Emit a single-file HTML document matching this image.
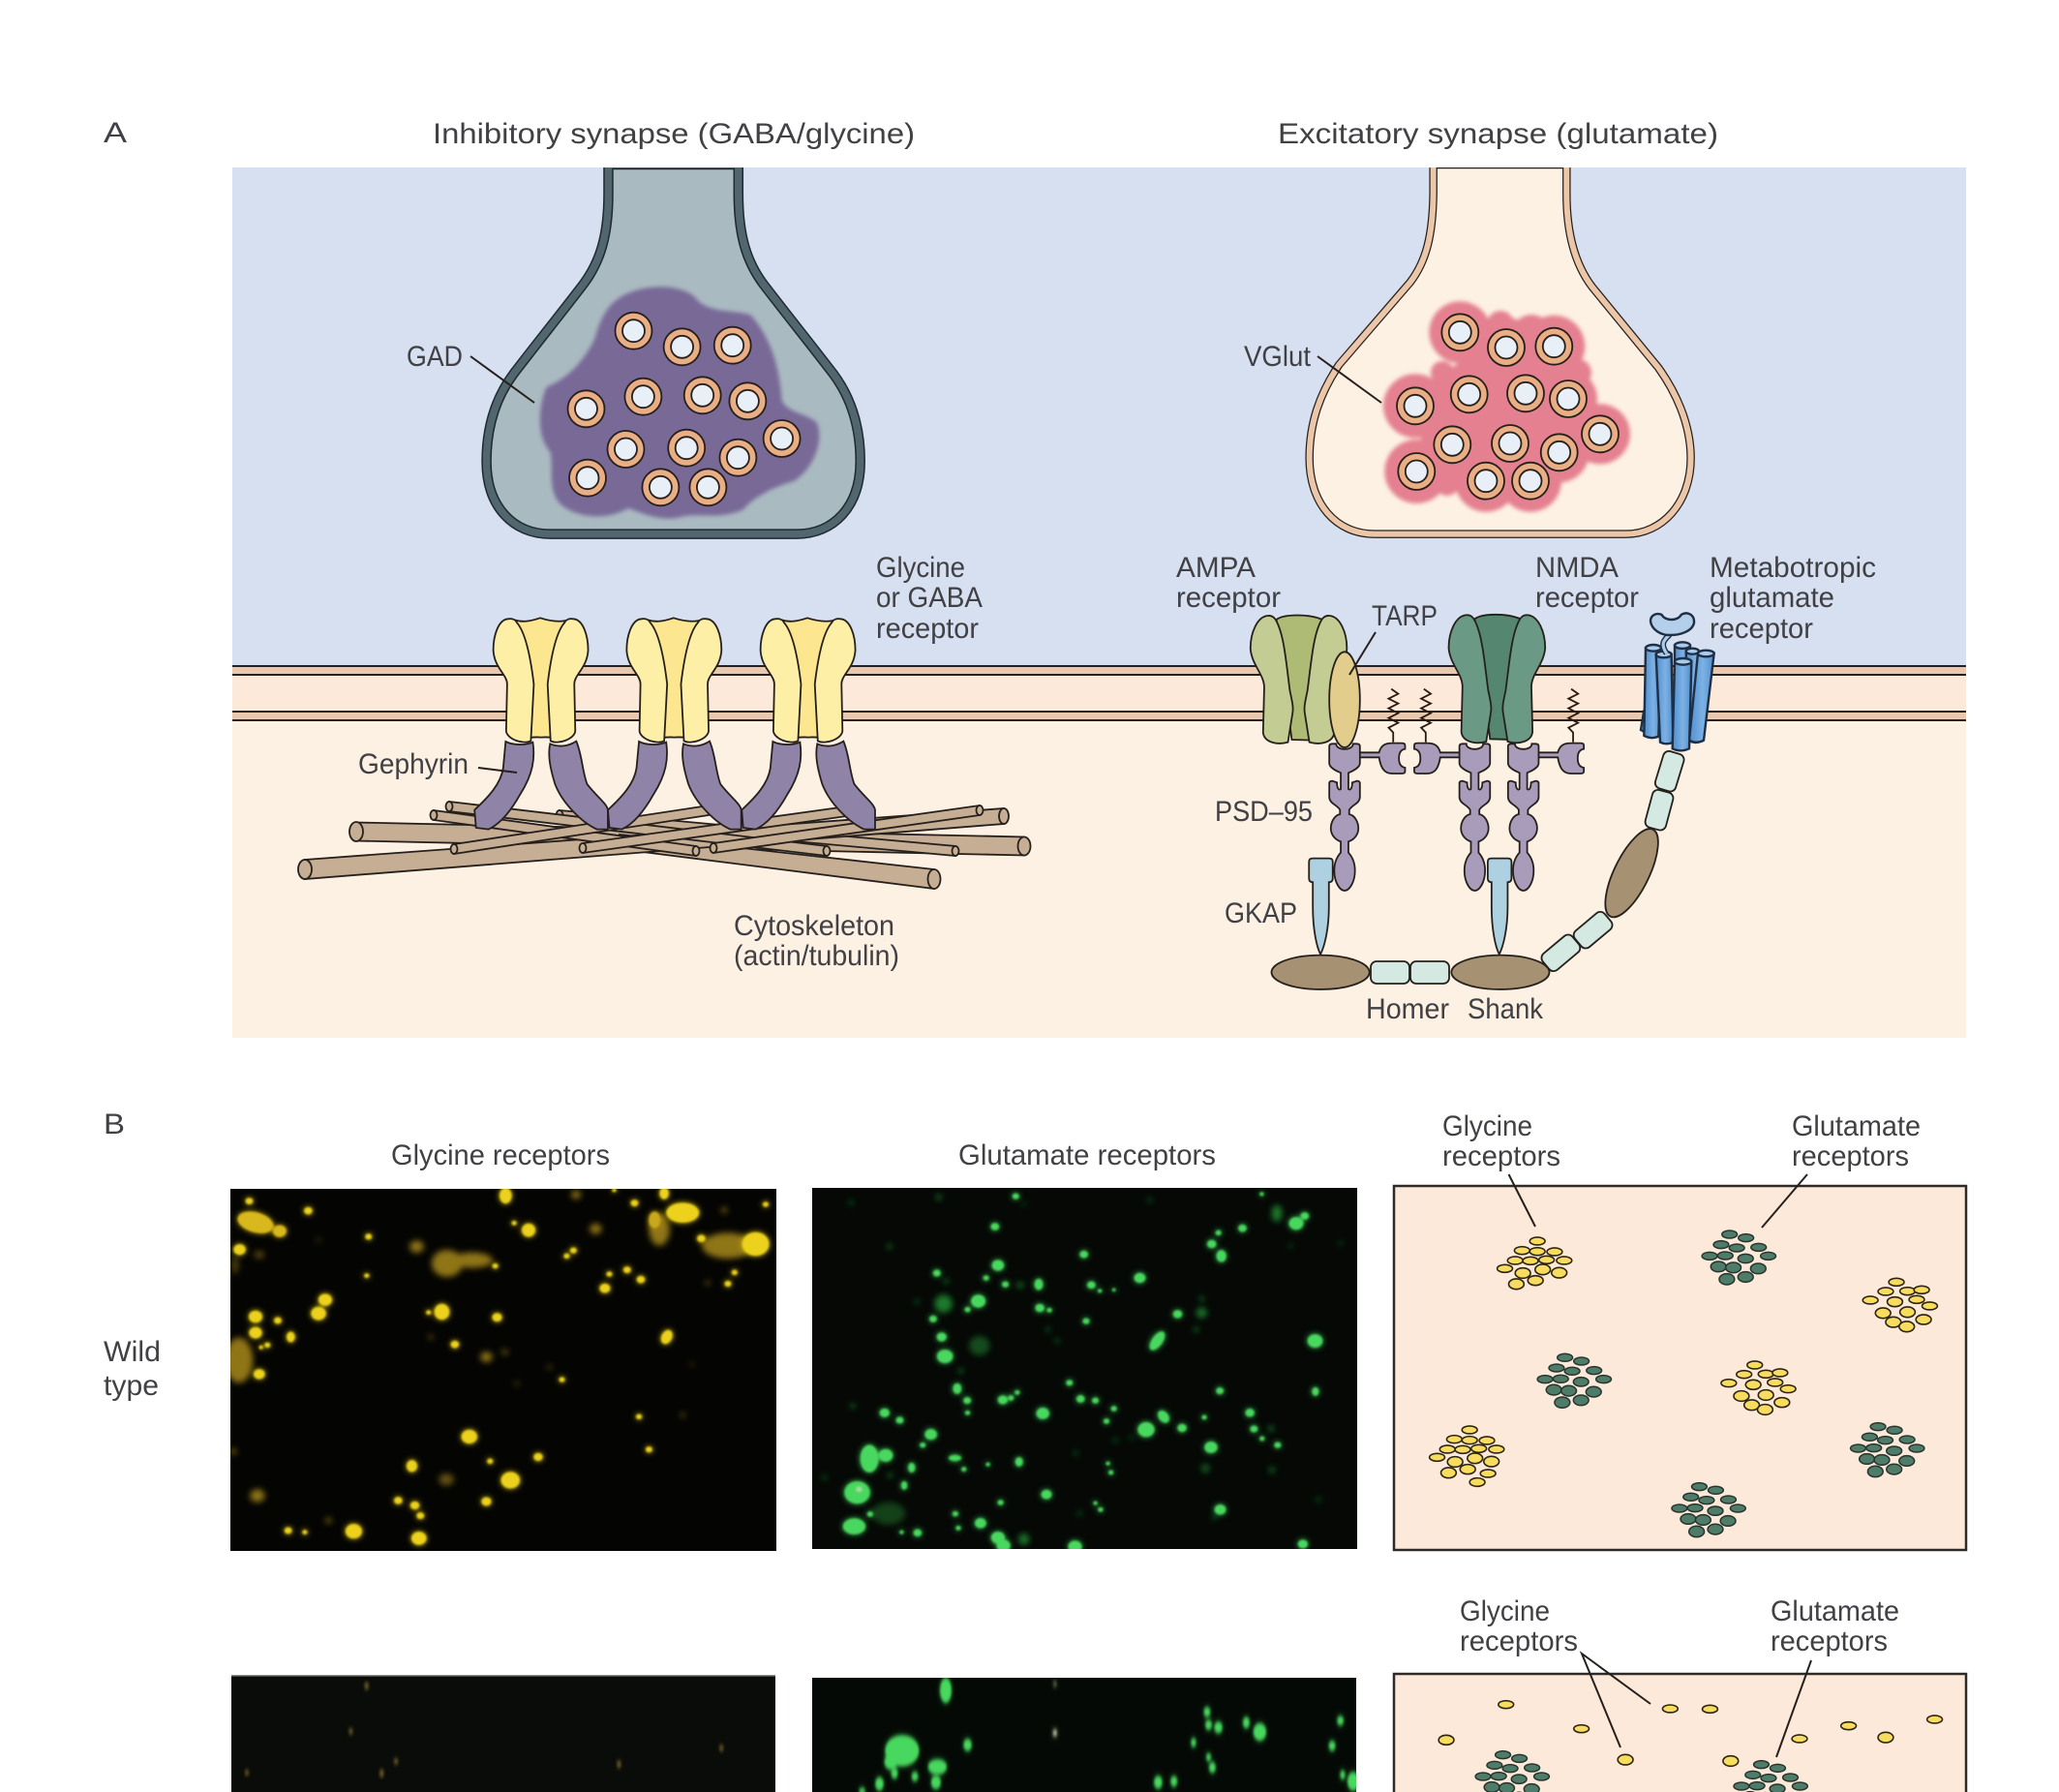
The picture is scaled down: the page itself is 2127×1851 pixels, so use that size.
<!DOCTYPE html>
<html><head><meta charset="utf-8"><style>
html,body{margin:0;padding:0;background:#fff}
svg{display:block}
svg *{vector-effect:non-scaling-stroke}
text{font-family:"Liberation Sans",sans-serif;font-size:30px;fill:#404045}
.k{stroke:#26201c;stroke-width:1.8}
.c{stroke:#1f2f45;stroke-width:2.4}
.l{stroke:#26201c;stroke-width:2;fill:none}
.y{fill:#ecd21c}.yd{fill:#8f7418}
.g{fill:#4ad85e}.gd{fill:#1e7a2c}
.e{stroke:#2b2414;stroke-width:1.6;fill:#f8dc5e}
.f{stroke:#26342e;stroke-width:1.5;fill:#4f7b69}
</style></head><body>
<svg xmlns="http://www.w3.org/2000/svg" width="2127" height="1851" viewBox="0 0 2127 1851">
<defs>
<filter id="b2" x="-5%" y="-5%" width="110%" height="110%"><feGaussianBlur stdDeviation="2.2"/></filter>
<filter id="b3" x="-5%" y="-5%" width="110%" height="110%"><feGaussianBlur stdDeviation="3.2"/></filter>
<filter id="gl" x="-3%" y="-3%" width="106%" height="106%"><feGaussianBlur in="SourceGraphic" stdDeviation="3.2" result="a"/><feGaussianBlur in="SourceGraphic" stdDeviation="1.1" result="b"/><feMerge><feMergeNode in="a"/><feMergeNode in="b"/></feMerge></filter>
<filter id="gv" x="-3%" y="-5%" width="106%" height="110%"><feGaussianBlur in="SourceGraphic" stdDeviation="2.4 4" result="a"/><feGaussianBlur in="SourceGraphic" stdDeviation="1 2" result="b"/><feMerge><feMergeNode in="a"/><feMergeNode in="b"/></feMerge></filter>
<filter id="bv" x="-2%" y="-2%" width="104%" height="104%"><feGaussianBlur stdDeviation="1.2 2.4"/></filter>
<clipPath id="cA"><rect x="240" y="173" width="1791" height="899"/></clipPath>
<clipPath id="c1"><rect x="238" y="1228" width="564" height="374"/></clipPath>
<clipPath id="c2"><rect x="839" y="1227" width="563" height="373"/></clipPath>
<clipPath id="c3"><rect x="239" y="1731" width="562" height="120"/></clipPath>
<clipPath id="c4"><rect x="839" y="1733" width="562" height="118"/></clipPath>
<linearGradient id="cy" x1="0" x2="1" y1="0" y2="0"><stop offset="0" stop-color="#4f8fd0"/><stop offset=".55" stop-color="#7db1e4"/><stop offset="1" stop-color="#4f8fd0"/></linearGradient>
<g id="v"><circle r="19" fill="#e9ae84" class="k"/><circle r="11.5" fill="#e9eff7" class="k"/></g>
<path id="gs" class="k" d="M480,238C460,240 450,290 450,335C452,390 478,410 478,440L476,585C478,612 512,628 526,616L530,500L532,440C525,350 515,280 498,250C495,240 488,236 480,238Z"/>
<g id="gr">
<path class="k" fill="#fde690" d="M490,240C510,250 525,245 545,235C565,245 585,250 605,240L600,604C585,610 565,602 546,605C530,602 515,610 500,608Z"/>
<use href="#gs" fill="#fdf0a6"/>
<use href="#gs" fill="#fdf0a6" transform="translate(1092,0) scale(-1,1)"/>
</g>
<g id="ge">
<path class="k" fill="#8f83a8" d="M475,618C490,630 515,630 530,620C535,670 530,720 505,780C485,835 462,875 440,890L415,885L412,830C440,790 465,750 470,700Z"/>
<path class="k" fill="#8f83a8" d="M565,625C580,635 600,635 618,617C630,660 630,710 640,750C660,790 680,810 682,830L682,890L660,890C630,870 590,810 575,750C565,700 560,660 565,625Z"/>
</g>
<path id="as" class="k" d="M278,198C250,200 232,250 232,300C235,350 268,380 268,420L265,560C268,590 300,600 330,590L342,500C345,480 340,460 335,430C325,340 320,260 300,215C295,203 287,197 278,198Z"/>
<g id="psd">
<path class="k" fill="#a99cbb" d="M38,27L90,27C95,5 105,-2 125,-2L150,-2Q158,-2 158,5L158,16C146,18 142,30 142,45C142,60 146,72 158,74L158,85Q158,92 150,92L125,92C105,92 95,78 90,42L38,42Z"/>
<path class="k" fill="#a99cbb" d="M-40,8Q-40,0 -32,0L-22,0C-22,22 22,22 22,0L32,0Q40,0 40,8L40,60C40,75 20,85 10,90L10,140C14,145 20,140 20,120L32,115Q40,115 40,123L40,165C40,185 18,190 12,205L12,218C28,222 36,245 36,262C36,282 24,298 10,303L10,337C20,350 27,370 27,393C27,430 12,455 0,455C-12,455 -27,430 -27,393C-27,370 -20,350 -10,337L-10,303C-24,298 -36,282 -36,262C-36,245 -28,222 -12,218L-12,205C-18,190 -40,185 -40,165L-40,123Q-40,115 -32,115L-20,120C-20,140 -14,145 -10,140L-10,90C-20,85 -40,75 -40,60Z"/>
</g>
<path id="gk" class="k" fill="#add1e0" d="M385,960Q385,950 395,950L437,950Q447,950 447,960L447,1012Q447,1024 437,1024L437,1100C437,1170 425,1225 415,1247C405,1225 395,1170 395,1100L395,1024Q385,1024 385,1012Z"/>
<path id="zz" fill="none" stroke="#2a1a10" stroke-width="1.8" d="M605,590L605,560L593,545L618,530L593,515L618,500L593,485L618,470L593,455L618,440L600,425"/>
<g id="cg">
<ellipse class="f" cx="902" cy="405" rx="20" ry="12"/><ellipse class="f" cx="945" cy="416" rx="20" ry="12"/><ellipse class="f" cx="880" cy="437" rx="20" ry="12"/><ellipse class="f" cx="921" cy="447" rx="20" ry="12"/><ellipse class="f" cx="978" cy="445" rx="20" ry="12"/><ellipse class="f" cx="850" cy="472" rx="20" ry="12"/><ellipse class="f" cx="891" cy="471" rx="20" ry="12"/><ellipse class="f" cx="944" cy="480" rx="20" ry="14"/><ellipse class="f" cx="1003" cy="472" rx="20" ry="12"/><ellipse class="f" cx="873" cy="505" rx="20" ry="16"/><ellipse class="f" cx="912" cy="508" rx="20" ry="16"/><ellipse class="f" cx="977" cy="511" rx="20" ry="16"/><ellipse class="f" cx="895" cy="544" rx="20" ry="17"/><ellipse class="f" cx="944" cy="537" rx="20" ry="16"/>
</g>
<g id="cy1">
<ellipse class="e" cx="400" cy="426" rx="20" ry="12"/><ellipse class="e" cx="360" cy="455" rx="20" ry="12"/><ellipse class="e" cx="400" cy="458" rx="20" ry="12"/><ellipse class="e" cx="445" cy="459" rx="20" ry="12"/><ellipse class="e" cx="342" cy="486" rx="20" ry="12"/><ellipse class="e" cx="382" cy="487" rx="20" ry="12"/><ellipse class="e" cx="424" cy="484" rx="20" ry="12"/><ellipse class="e" cx="470" cy="486" rx="20" ry="12"/><ellipse class="e" cx="315" cy="511" rx="20" ry="12"/><ellipse class="e" cx="362" cy="525" rx="20" ry="16"/><ellipse class="e" cx="414" cy="514" rx="20" ry="16"/><ellipse class="e" cx="457" cy="524" rx="20" ry="16"/><ellipse class="e" cx="345" cy="559" rx="20" ry="16"/><ellipse class="e" cx="395" cy="548" rx="20" ry="15"/>
</g>
<g id="cy2">
<ellipse class="e" cx="1338" cy="553" rx="20" ry="12"/><ellipse class="e" cx="1310" cy="582" rx="20" ry="12"/><ellipse class="e" cx="1367" cy="581" rx="20" ry="12"/><ellipse class="e" cx="1404" cy="577" rx="20" ry="12"/><ellipse class="e" cx="1270" cy="609" rx="20" ry="12"/><ellipse class="e" cx="1334" cy="614" rx="20" ry="15"/><ellipse class="e" cx="1391" cy="607" rx="20" ry="12"/><ellipse class="e" cx="1425" cy="627" rx="20" ry="12"/><ellipse class="e" cx="1303" cy="649" rx="20" ry="16"/><ellipse class="e" cx="1367" cy="646" rx="20" ry="16"/><ellipse class="e" cx="1409" cy="669" rx="20" ry="15"/><ellipse class="e" cx="1330" cy="677" rx="20" ry="16"/><ellipse class="e" cx="1365" cy="691" rx="20" ry="16"/>
</g>
</defs>

<rect width="2127" height="1851" fill="#fff"/>

<!-- Panel A -->
<g clip-path="url(#cA)">
<rect x="240" y="173" width="1791" height="515" fill="#d6e0f1"/>
<rect x="240" y="688" width="1791" height="9" fill="#e8c9b0"/>
<rect x="240" y="697" width="1791" height="38" fill="#fde9d9"/>
<rect x="240" y="735" width="1791" height="9" fill="#e8c9b0"/>
<rect x="240" y="744" width="1791" height="328" fill="#fdf1e3"/>
<g stroke="#2a1f1a" stroke-width="2"><line x1="240" x2="2031" y1="688" y2="688"/><line x1="240" x2="2031" y1="697" y2="697"/><line x1="240" x2="2031" y1="735" y2="735"/><line x1="240" x2="2031" y1="744" y2="744"/></g>

<!-- left terminal -->
<g transform="translate(400,150) scale(.3827,.3333)">
<path fill="#aabac1" stroke="#1e2a2e" stroke-width="10.5" stroke-linejoin="round" d="M597,60L597,150C597,280 575,360 530,430C470,520 400,620 340,710C295,780 268,870 268,980C268,1120 340,1205 440,1205L1105,1205C1205,1205 1277,1120 1277,980C1277,870 1250,780 1205,710C1145,620 1075,520 1015,430C970,360 948,280 948,150L948,60Z"/>
<path fill="none" stroke="#51666f" stroke-width="7.5" stroke-linejoin="round" d="M597,60L597,150C597,280 575,360 530,430C470,520 400,620 340,710C295,780 268,870 268,980C268,1120 340,1205 440,1205L1105,1205C1205,1205 1277,1120 1277,980C1277,870 1250,780 1205,710C1145,620 1075,520 1015,430C970,360 948,280 948,150L948,60Z"/>
</g>
<g filter="url(#b2)"><g transform="translate(400,150) scale(.3827,.3333)">
<path fill="#786997" d="M600,500C650,430 780,420 830,470C860,520 930,510 980,525C1040,600 1060,700 1065,790C1080,830 1130,830 1160,860C1180,920 1150,1000 1100,1040C1040,1060 990,1090 960,1130C900,1160 850,1140 800,1150C740,1170 690,1140 650,1125C600,1160 520,1160 470,1115C430,1070 450,1000 440,950C400,900 410,800 430,750C490,720 530,670 560,600C570,560 580,530 600,500Z"/>
</g></g>
<use href="#v" x="654.5" y="341.7"/><use href="#v" x="704.6" y="358.3"/><use href="#v" x="756.7" y="356.7"/><use href="#v" x="605.5" y="422.3"/><use href="#v" x="664.4" y="409.7"/><use href="#v" x="725.7" y="408.3"/><use href="#v" x="772.4" y="414.3"/><use href="#v" x="807.6" y="453"/><use href="#v" x="646.5" y="464"/><use href="#v" x="709.2" y="462.7"/><use href="#v" x="762.4" y="472.7"/><use href="#v" x="607" y="493.7"/><use href="#v" x="682.4" y="503.3"/><use href="#v" x="731.4" y="503.3"/>

<!-- right terminal -->
<g transform="translate(1340,150) scale(.3333)">
<path fill="#fdf1e3" stroke="#26201c" stroke-width="8.5" stroke-linejoin="round" d="M422,60L422,150C420,280 400,360 350,425L130,680C70,770 38,860 38,970C38,1110 120,1205 240,1205L1020,1205C1130,1205 1220,1110 1220,970C1220,860 1170,760 1120,690L915,440C865,375 835,280 835,150L835,60Z"/>
<path fill="none" stroke="#ecc6a8" stroke-width="6" stroke-linejoin="round" d="M422,60L422,150C420,280 400,360 350,425L130,680C70,770 38,860 38,970C38,1110 120,1205 240,1205L1020,1205C1130,1205 1220,1110 1220,970C1220,860 1170,760 1120,690L915,440C865,375 835,280 835,150L835,60Z"/>
</g>
<g filter="url(#b2)" fill="#e4808f">
<circle cx="1508.3" cy="343.3" r="32"/><circle cx="1556" cy="359" r="31"/><circle cx="1605.3" cy="357.7" r="32"/><circle cx="1462" cy="419.3" r="33"/><circle cx="1517.7" cy="407.3" r="33"/><circle cx="1576" cy="406.3" r="33"/><circle cx="1620" cy="412" r="30"/><circle cx="1653" cy="448.3" r="31"/><circle cx="1500.3" cy="459.3" r="33"/><circle cx="1560" cy="458" r="33"/><circle cx="1610.7" cy="467.3" r="31"/><circle cx="1463.3" cy="487" r="33"/><circle cx="1535" cy="496.7" r="32"/><circle cx="1581" cy="496.7" r="32"/>
<circle cx="1530" cy="365" r="20"/><circle cx="1582" cy="345" r="20"/><circle cx="1550" cy="335" r="14"/><circle cx="1490" cy="385" r="12"/><circle cx="1630" cy="385" r="14"/><circle cx="1495" cy="500" r="12"/>
<polygon points="1480,395 1540,350 1625,365 1650,440 1620,480 1590,500 1480,490"/>
</g>
<use href="#v" x="1508.3" y="343.3"/><use href="#v" x="1556" y="359"/><use href="#v" x="1605.3" y="357.7"/><use href="#v" x="1462" y="419.3"/><use href="#v" x="1517.7" y="407.3"/><use href="#v" x="1576" y="406.3"/><use href="#v" x="1620" y="412"/><use href="#v" x="1653" y="448.3"/><use href="#v" x="1500.3" y="459.3"/><use href="#v" x="1560" y="458"/><use href="#v" x="1610.7" y="467.3"/><use href="#v" x="1463.3" y="487"/><use href="#v" x="1535" y="496.7"/><use href="#v" x="1581" y="496.7"/>

<!-- rods -->
<g fill="#c6ae95" class="k">
<polygon points="368,849.5 1058,864.5 1058,883.5 368,868.5" class="k"/><ellipse cx="1058" cy="874" rx="6.5" ry="9.5" class="k"/><ellipse cx="368" cy="859" rx="7" ry="10" class="k"/>
<polygon points="578,837 987,874 987,884 578,847" class="k"/><ellipse cx="987" cy="879" rx="3.5" ry="5" class="k"/><ellipse cx="578" cy="842" rx="3.5" ry="5" class="k"/>
<polygon points="640,862 965,898 965,918 640,877" class="k"/><ellipse cx="965" cy="908" rx="6.5" ry="10" class="k"/>
<polygon points="315,888 1037,835 1037,851 315,908" class="k"/><ellipse cx="315" cy="898" rx="7" ry="10" class="k"/><ellipse cx="1037" cy="843" rx="5" ry="8" class="k"/>
<polygon points="464,828 854,874 854,884 464,838" class="k"/><ellipse cx="854" cy="879" rx="3.5" ry="5" class="k"/><ellipse cx="464" cy="833" rx="3.5" ry="5" class="k"/>
<polygon points="448,837 719,874 719,884 448,847" class="k"/><ellipse cx="719" cy="879" rx="3.5" ry="5" class="k"/><ellipse cx="448" cy="842" rx="3.5" ry="5" class="k"/>
<polygon points="469,872 732,832 732,842 469,882" class="k"/><ellipse cx="469" cy="877" rx="3.5" ry="5" class="k"/>
<polygon points="602,871 882,832 882,842 602,881" class="k"/><ellipse cx="602" cy="876" rx="3.5" ry="5" class="k"/>
<polygon points="737,871 1012,832 1012,842 737,881" class="k"/><ellipse cx="737" cy="876" rx="3.5" ry="5" class="k"/><ellipse cx="1012" cy="837" rx="3.5" ry="5" class="k"/>
</g>

<!-- glycine receptors + gephyrin -->
<g transform="translate(280,560) scale(.5102,.3333)">
<use href="#ge"/><use href="#ge" x="270"/><use href="#ge" x="541"/>
<use href="#gr"/><use href="#gr" x="270"/><use href="#gr" x="541"/>
</g>

<!-- excitatory molecules (zoom 3 coordinates) -->
<g transform="translate(1200,570) scale(.3954,.3333)">
<use href="#zz"/><use href="#zz" x="85"/><use href="#zz" x="470"/>
<use href="#psd" transform="translate(478,595)"/>
<use href="#psd" transform="translate(818,595) scale(-1,1)"/>
<use href="#psd" transform="translate(945,595)"/>
<use href="#gk"/><use href="#gk" x="467"/>
<ellipse class="k" fill="#a69273" cx="415" cy="1303" rx="128" ry="53"/>
<ellipse class="k" fill="#a69273" cx="885" cy="1303" rx="128" ry="53"/>
<path class="k" fill="#aebb75" d="M300,210C320,192 385,192 420,210L425,585L340,582Z"/>
<use href="#as" fill="#c3cc93"/>
<use href="#as" fill="#c3cc93" transform="translate(716,0) scale(-1,1)"/>
<ellipse class="k" fill="#e2cd8c" cx="478" cy="458" rx="40" ry="148"/>
<path class="k" fill="#55866f" d="M818,208C838,190 903,190 938,208L943,583L858,580Z"/>
<use href="#as" fill="#6a9a85" transform="translate(518,-2)"/>
<use href="#as" fill="#6a9a85" transform="translate(1234,-2) scale(-1,1)"/>
</g>
<!-- mGluR (real scale /3) -->
<g transform="translate(1680,620) scale(.3333)">
<path class="c" fill="#5f9fdc" d="M55,340L45,402L60,410Z"/>
<path class="c" fill="url(#cy)" d="M150,140L150,430L198,430L198,140Z"/>
<ellipse class="c" fill="#a9cbec" cx="174" cy="140" rx="24" ry="10"/>
<path class="c" fill="url(#cy)" d="M185,158L195,436Q215,446 235,436L225,158Z"/>
<ellipse class="c" fill="#a9cbec" cx="205" cy="158" rx="20" ry="9"/>
<path class="c" fill="url(#cy)" d="M60,148L55,420Q78,432 100,422L108,148Z"/>
<ellipse class="c" fill="#a9cbec" cx="84" cy="148" rx="24" ry="10"/>
<path class="c" fill="url(#cy)" d="M222,165L195,434Q217,446 240,434L272,165Z"/>
<ellipse class="c" fill="#a9cbec" cx="247" cy="165" rx="25" ry="10"/>
<path class="c" fill="url(#cy)" d="M92,168L105,440Q125,450 145,440L140,168Z"/>
<ellipse class="c" fill="#a9cbec" cx="116" cy="168" rx="24" ry="10"/>
<path class="c" fill="url(#cy)" d="M150,190L143,460Q168,472 195,460L202,190Z"/>
<ellipse class="c" fill="#a9cbec" cx="176" cy="190" rx="26" ry="10"/>
<path d="M135,106C115,125 105,135 125,165" fill="none" stroke="#1f2f45" stroke-width="6"/>
<path d="M135,106C115,125 105,135 125,165" fill="none" stroke="#a9cbec" stroke-width="3.2"/>
<path class="c" fill="#b4cfe9" d="M75,65C75,45 95,38 110,45C120,65 160,65 170,45C190,33 212,45 210,70C205,95 170,108 135,108C105,108 78,90 75,65Z"/>
</g>
<!-- Homer + tilted shank -->
<g fill="#d3e9e2" class="k">
<rect x="1416" y="993" width="40" height="23" rx="6" class="k"/><rect x="1457" y="993" width="40" height="23" rx="6" class="k"/>
<rect x="-11" y="-20" width="22" height="40" rx="6" transform="translate(1724.7,796.7) rotate(17)" class="k"/>
<rect x="-11" y="-20" width="22" height="40" rx="6" transform="translate(1714,836.7) rotate(15)" class="k"/>
<ellipse cx="0" cy="0" rx="18" ry="50" fill="#a69273" transform="translate(1685.6,901.7) rotate(26)" class="k"/>
<rect x="-20" y="-11" width="40" height="22" rx="6" transform="translate(1645.6,960.7) rotate(-40)" class="k"/>
<rect x="-20" y="-11" width="40" height="22" rx="6" transform="translate(1612.4,984.3) rotate(-40)" class="k"/>
</g>
</g>

<!-- leaders A -->
<g class="l">
<line x1="486" y1="368" x2="552" y2="416"/>
<line x1="1361" y1="368" x2="1427" y2="416"/>
<line x1="494" y1="793" x2="534" y2="798"/>
<line x1="1421" y1="653" x2="1394" y2="697"/>
</g>

<!-- labels A -->
<text x="107" y="147" textLength="24" lengthAdjust="spacingAndGlyphs">A</text>
<text x="447" y="148" textLength="498" lengthAdjust="spacingAndGlyphs">Inhibitory synapse (GABA/glycine)</text>
<text x="1320" y="148" textLength="455" lengthAdjust="spacingAndGlyphs">Excitatory synapse (glutamate)</text>
<text x="420" y="378" textLength="58" lengthAdjust="spacingAndGlyphs">GAD</text>
<text x="1285" y="378" textLength="69" lengthAdjust="spacingAndGlyphs">VGlut</text>
<text x="905" y="596" textLength="92" lengthAdjust="spacingAndGlyphs">Glycine</text>
<text x="905" y="627" textLength="110" lengthAdjust="spacingAndGlyphs">or GABA</text>
<text x="905" y="659" textLength="106" lengthAdjust="spacingAndGlyphs">receptor</text>
<text x="370" y="799" textLength="114" lengthAdjust="spacingAndGlyphs">Gephyrin</text>
<text x="758" y="966" textLength="166" lengthAdjust="spacingAndGlyphs">Cytoskeleton</text>
<text x="758" y="997" textLength="171" lengthAdjust="spacingAndGlyphs">(actin/tubulin)</text>
<text x="1215" y="596" textLength="82" lengthAdjust="spacingAndGlyphs">AMPA</text>
<text x="1215" y="627" textLength="108" lengthAdjust="spacingAndGlyphs">receptor</text>
<text x="1417" y="646" textLength="68" lengthAdjust="spacingAndGlyphs">TARP</text>
<text x="1586" y="596" textLength="86" lengthAdjust="spacingAndGlyphs">NMDA</text>
<text x="1586" y="627" textLength="107" lengthAdjust="spacingAndGlyphs">receptor</text>
<text x="1766" y="596" textLength="172" lengthAdjust="spacingAndGlyphs">Metabotropic</text>
<text x="1766" y="627" textLength="129" lengthAdjust="spacingAndGlyphs">glutamate</text>
<text x="1766" y="659" textLength="107" lengthAdjust="spacingAndGlyphs">receptor</text>
<text x="1255" y="848" textLength="101" lengthAdjust="spacingAndGlyphs">PSD–95</text>
<text x="1265" y="953" textLength="75" lengthAdjust="spacingAndGlyphs">GKAP</text>
<text x="1411" y="1052" textLength="86" lengthAdjust="spacingAndGlyphs">Homer</text>
<text x="1516" y="1052" textLength="78" lengthAdjust="spacingAndGlyphs">Shank</text>

<!-- labels B -->
<text x="107" y="1171" textLength="22" lengthAdjust="spacingAndGlyphs">B</text>
<text x="404" y="1203" textLength="226" lengthAdjust="spacingAndGlyphs">Glycine receptors</text>
<text x="990" y="1203" textLength="266" lengthAdjust="spacingAndGlyphs">Glutamate receptors</text>
<text x="107" y="1406" textLength="59" lengthAdjust="spacingAndGlyphs">Wild</text>
<text x="107" y="1441" textLength="57" lengthAdjust="spacingAndGlyphs">type</text>

<!-- yellow image -->
<rect x="238" y="1228" width="564" height="374" fill="#040403"/>
<g clip-path="url(#c1)">
<g filter="url(#b3)"><g transform="translate(220,1220) scale(.3827,.3333)"><g class="yd">
<ellipse cx="125" cy="228" rx="14" ry="12" opacity=".6"/><circle cx="285" cy="183" r="6" opacity=".6"/><circle cx="980" cy="42" r="13"/><ellipse cx="1205" cy="150" rx="28" ry="50"/><circle cx="1033" cy="148" r="16"/><circle cx="1380" cy="90" r="8"/><ellipse cx="1390" cy="200" rx="70" ry="40"/><circle cx="550" cy="203" r="19"/><circle cx="632" cy="255" r="42"/><ellipse cx="700" cy="245" rx="55" ry="24"/><circle cx="1335" cy="315" r="6"/><ellipse cx="70" cy="555" rx="38" ry="70"/><circle cx="588" cy="483" r="6"/><circle cx="738" cy="545" r="16"/><circle cx="788" cy="530" r="9" opacity=".7"/><circle cx="908" cy="577" r="5"/><circle cx="820" cy="627" r="6" opacity=".7"/><circle cx="1293" cy="568" r="5" opacity=".6"/><circle cx="1268" cy="725" r="6"/><ellipse cx="630" cy="925" rx="20" ry="18" opacity=".7"/><circle cx="120" cy="975" r="20"/><circle cx="55" cy="838" r="8"/><circle cx="312" cy="1052" r="8"/><ellipse cx="60" cy="260" rx="10" ry="28" opacity=".5"/>
</g></g></g>
<g filter="url(#gl)"><g transform="translate(220,1220) scale(.3827,.3333)"><g class="y">
<circle cx="98" cy="62" r="10"/><circle cx="257" cy="92" r="11"/><ellipse cx="115" cy="128" rx="50" ry="30" transform="rotate(20 115 128)" fill="#d8b81c"/><circle cx="180" cy="155" r="18" fill="#d8b81c"/><circle cx="72" cy="212" r="16"/><circle cx="420" cy="172" r="9"/><circle cx="415" cy="293" r="7"/><ellipse cx="790" cy="45" rx="16" ry="24"/><circle cx="813" cy="130" r="7"/><ellipse cx="852" cy="152" rx="18" ry="20"/><circle cx="1083" cy="28" r="6"/><circle cx="1138" cy="68" r="10"/><ellipse cx="1218" cy="38" rx="12" ry="18"/><ellipse cx="1268" cy="98" rx="44" ry="30"/><ellipse cx="1192" cy="120" rx="15" ry="25" fill="#c8a81c"/><circle cx="1492" cy="72" r="8"/><circle cx="1318" cy="178" r="11"/><circle cx="1465" cy="195" r="36"/><circle cx="762" cy="263" r="8"/><circle cx="955" cy="232" r="8"/><circle cx="973" cy="215" r="9"/><circle cx="1070" cy="288" r="8"/><circle cx="1118" cy="275" r="10"/><circle cx="1155" cy="305" r="11"/><circle cx="1058" cy="332" r="14"/><circle cx="1408" cy="283" r="8"/><circle cx="1390" cy="318" r="9"/><circle cx="285" cy="410" r="20"/><circle cx="303" cy="368" r="18"/><circle cx="115" cy="420" r="18"/><circle cx="175" cy="432" r="10"/><ellipse cx="210" cy="483" rx="11" ry="16"/><circle cx="115" cy="470" r="17"/><circle cx="130" cy="515" r="6"/><circle cx="147" cy="508" r="8"/><circle cx="125" cy="598" r="15"/><ellipse cx="618" cy="405" rx="20" ry="24"/><circle cx="582" cy="407" r="7"/><circle cx="767" cy="422" r="13"/><circle cx="653" cy="506" r="11"/><ellipse cx="1225" cy="483" rx="14" ry="22" transform="rotate(20 1225 483)"/><circle cx="942" cy="615" r="8"/><circle cx="1150" cy="730" r="8"/><circle cx="1177" cy="832" r="9"/><circle cx="692" cy="792" r="21"/><ellipse cx="537" cy="883" rx="14" ry="18"/><circle cx="748" cy="868" r="8"/><circle cx="878" cy="855" r="12"/><circle cx="803" cy="927" r="25"/><circle cx="500" cy="990" r="11"/><circle cx="545" cy="1005" r="12"/><circle cx="738" cy="993" r="13"/><circle cx="560" cy="1037" r="10"/><circle cx="203" cy="1083" r="10"/><circle cx="248" cy="1088" r="7"/><circle cx="380" cy="1085" r="22"/><circle cx="556" cy="1107" r="20"/>
</g></g></g>
</g>

<!-- green image -->
<rect x="839" y="1227" width="563" height="373" fill="#050805"/>
<g clip-path="url(#c2)">
<g filter="url(#b3)"><g transform="translate(830,1220) scale(.3827,.3333)"><g class="gd">
<circle cx="365" cy="50" r="8"/><circle cx="128" cy="67" r="6"/><circle cx="232" cy="203" r="7"/><circle cx="385" cy="310" r="7"/><circle cx="585" cy="322" r="9"/><ellipse cx="1278" cy="100" rx="14" ry="26"/><ellipse cx="378" cy="380" rx="24" ry="28"/><circle cx="306" cy="373" r="6"/><ellipse cx="475" cy="510" rx="28" ry="30" opacity=".6"/><ellipse cx="1075" cy="408" rx="14" ry="16"/><circle cx="1060" cy="460" r="7"/><circle cx="1075" cy="365" r="7"/><circle cx="425" cy="588" r="7"/><circle cx="133" cy="697" r="7"/><circle cx="735" cy="843" r="6"/><circle cx="57" cy="918" r="6"/><circle cx="234" cy="912" r="7"/><ellipse cx="230" cy="1030" rx="45" ry="35" opacity=".5"/><circle cx="1390" cy="987" r="6"/><circle cx="745" cy="1030" r="6"/><circle cx="1109" cy="1042" r="6"/><circle cx="1265" cy="895" r="8"/><circle cx="1262" cy="767" r="8"/><ellipse cx="595" cy="1110" rx="14" ry="18"/><circle cx="660" cy="460" r="6"/><circle cx="685" cy="495" r="6"/><circle cx="1450" cy="193" r="5"/><circle cx="935" cy="58" r="6"/><circle cx="1315" cy="200" r="5"/><circle cx="842" cy="803" r="6"/><circle cx="885" cy="795" r="5"/><ellipse cx="1085" cy="890" rx="12" ry="14" opacity=".7"/><circle cx="595" cy="72" r="6" opacity=".6"/>
</g></g></g>
<g filter="url(#gl)"><g transform="translate(830,1220) scale(.3827,.3333)"><g class="g">
<circle cx="573" cy="47" r="9"/><circle cx="517" cy="141" r="11"/><circle cx="757" cy="227" r="11"/><circle cx="525" cy="261" r="16"/><circle cx="360" cy="285" r="10"/><circle cx="493" cy="300" r="8"/><circle cx="545" cy="320" r="9"/><ellipse cx="635" cy="320" rx="11" ry="17"/><circle cx="777" cy="322" r="11"/><circle cx="800" cy="340" r="6"/><circle cx="838" cy="337" r="5"/><circle cx="908" cy="300" r="15"/><circle cx="1120" cy="160" r="8"/><circle cx="1185" cy="146" r="11"/><circle cx="1102" cy="195" r="12"/><ellipse cx="1128" cy="232" rx="13" ry="18"/><circle cx="1330" cy="131" r="19"/><circle cx="1353" cy="108" r="11"/><circle cx="1237" cy="40" r="6"/><circle cx="472" cy="372" r="19"/><circle cx="443" cy="398" r="8"/><circle cx="350" cy="427" r="10"/><circle cx="638" cy="393" r="12"/><circle cx="664" cy="400" r="7"/><circle cx="763" cy="434" r="9"/><circle cx="373" cy="483" r="13"/><ellipse cx="382" cy="543" rx="21" ry="20"/><circle cx="1010" cy="412" r="12"/><ellipse cx="955" cy="495" rx="14" ry="32" transform="rotate(30 955 495)"/><circle cx="1381" cy="495" r="20"/><circle cx="1124" cy="650" r="10"/><ellipse cx="1382" cy="652" rx="9" ry="13"/><ellipse cx="415" cy="643" rx="11" ry="16"/><circle cx="442" cy="680" r="10"/><circle cx="443" cy="718" r="7"/><circle cx="538" cy="678" r="13"/><circle cx="560" cy="672" r="8"/><circle cx="577" cy="655" r="7"/><circle cx="718" cy="625" r="9"/><circle cx="748" cy="675" r="11"/><circle cx="788" cy="680" r="9"/><circle cx="838" cy="705" r="8"/><circle cx="646" cy="720" r="17"/><circle cx="818" cy="744" r="8"/><circle cx="219" cy="718" r="13"/><circle cx="260" cy="741" r="10"/><circle cx="344" cy="785" r="16"/><circle cx="322" cy="818" r="8"/><ellipse cx="972" cy="730" rx="13" ry="20" transform="rotate(-30 972 730)"/><circle cx="925" cy="770" r="22"/><circle cx="1022" cy="765" r="12"/><circle cx="1082" cy="732" r="7"/><circle cx="1205" cy="718" r="12"/><circle cx="1216" cy="768" r="10"/><circle cx="1238" cy="798" r="7"/><circle cx="1280" cy="818" r="9"/><circle cx="1100" cy="825" r="17"/><ellipse cx="409" cy="858" rx="17" ry="9"/><ellipse cx="582" cy="870" rx="10" ry="14"/><circle cx="498" cy="878" r="6"/><circle cx="433" cy="893" r="7"/><ellipse cx="292" cy="888" rx="9" ry="15"/><circle cx="822" cy="875" r="6"/><circle cx="830" cy="903" r="7"/><ellipse cx="178" cy="860" rx="24" ry="42"/><circle cx="222" cy="850" r="19"/><circle cx="145" cy="965" r="34"/><ellipse cx="272" cy="943" rx="8" ry="13"/><circle cx="180" cy="1032" r="8"/><ellipse cx="137" cy="1070" rx="30" ry="24"/><circle cx="532" cy="996" r="8"/><circle cx="656" cy="971" r="14"/><circle cx="410" cy="1031" r="8"/><circle cx="788" cy="998" r="6"/><circle cx="802" cy="1018" r="7"/><circle cx="1125" cy="1018" r="15"/><circle cx="418" cy="1075" r="7"/><circle cx="478" cy="1060" r="15"/><circle cx="265" cy="1088" r="6"/><circle cx="308" cy="1090" r="11"/><circle cx="525" cy="1105" r="18"/><circle cx="540" cy="1130" r="18"/><circle cx="733" cy="1133" r="18"/><circle cx="1348" cy="1125" r="13"/>
</g>
<circle cx="150" cy="955" r="8" fill="#a8d8a0"/>
</g></g>
</g>

<!-- bottom images -->
<rect x="239" y="1731" width="562" height="120" fill="#0a0c09"/>
<rect x="239" y="1730" width="562" height="1.5" fill="#888"/>
<g clip-path="url(#c3)"><g filter="url(#bv)"><g transform="translate(220,1640) scale(.778,.3333)" fill="#6a5a25">
<ellipse cx="204" cy="304" rx="3" ry="12"/><ellipse cx="183" cy="445" rx="3" ry="10"/><ellipse cx="243" cy="538" rx="3" ry="10"/><ellipse cx="224" cy="575" rx="3" ry="13"/><ellipse cx="45" cy="573" rx="3" ry="9"/><ellipse cx="539" cy="547" rx="3" ry="12"/><ellipse cx="675" cy="497" rx="3" ry="10"/>
</g></g></g>
<rect x="839" y="1733" width="562" height="118" fill="#050905"/>
<g clip-path="url(#c4)"><g filter="url(#gv)"><g transform="translate(220,1640) scale(.778,.3333)" fill="#4ad85e">
<ellipse cx="973" cy="318" rx="7" ry="36"/><ellipse cx="915" cy="505" rx="22" ry="45"/><ellipse cx="1002" cy="487" rx="5" ry="16"/><ellipse cx="962" cy="555" rx="12" ry="20"/><ellipse cx="900" cy="540" rx="8" ry="20"/><ellipse cx="905" cy="575" rx="4" ry="14"/><ellipse cx="885" cy="608" rx="5" ry="18"/><ellipse cx="960" cy="603" rx="6" ry="18"/><ellipse cx="932" cy="585" rx="4" ry="12"/><ellipse cx="862" cy="630" rx="4" ry="8"/><ellipse cx="1320" cy="385" rx="4" ry="13"/><ellipse cx="1322" cy="425" rx="4" ry="13"/><ellipse cx="1335" cy="433" rx="5" ry="15"/><ellipse cx="1372" cy="418" rx="4" ry="15"/><ellipse cx="1390" cy="447" rx="8" ry="24"/><ellipse cx="1302" cy="480" rx="3" ry="12"/><ellipse cx="1322" cy="525" rx="3" ry="10"/><ellipse cx="1327" cy="557" rx="4" ry="14"/><ellipse cx="1255" cy="603" rx="5" ry="17"/><ellipse cx="1276" cy="600" rx="4" ry="14"/><ellipse cx="1486" cy="490" rx="4" ry="13"/><ellipse cx="1497" cy="412" rx="4" ry="12"/><ellipse cx="1500" cy="580" rx="3" ry="12"/><ellipse cx="1514" cy="600" rx="7" ry="26"/><ellipse cx="1118" cy="450" rx="2.5" ry="9" fill="#bfc9a8"/><ellipse cx="1118" cy="298" rx="2" ry="10" fill="#55604a"/>
</g></g></g>

<!-- right panels -->
<rect x="1440" y="1225" width="591" height="376" fill="#fde9d9" stroke="#2e2a28" stroke-width="2.5"/>
<g transform="translate(1430,1140) scale(.3954,.3333)">
<use href="#cy1"/>
<use href="#cy2"/><use href="#cy2" x="-370" y="257"/>
<use href="#cy1" x="-177" y="585"/>
<ellipse class="e" cx="271" cy="1146" rx="20" ry="12"/><ellipse class="e" cx="243" cy="1173" rx="20" ry="13"/>
<use href="#cg"/><use href="#cg" x="-430" y="382"/><use href="#cg" x="388" y="596"/><use href="#cg" x="-79" y="782"/>
</g>
<g class="l"><line x1="1558.5" y1="1213" x2="1586" y2="1267"/><line x1="1867" y1="1213" x2="1820" y2="1268"/></g>
<text x="1490" y="1173" textLength="93" lengthAdjust="spacingAndGlyphs">Glycine</text>
<text x="1490" y="1204" textLength="122" lengthAdjust="spacingAndGlyphs">receptors</text>
<text x="1851" y="1173" textLength="133" lengthAdjust="spacingAndGlyphs">Glutamate</text>
<text x="1851" y="1204" textLength="121" lengthAdjust="spacingAndGlyphs">receptors</text>

<rect x="1440" y="1729" width="591" height="140" fill="#fde9d9" stroke="#2e2a28" stroke-width="2.5"/>
<g transform="translate(1430,1640) scale(.3954,.3333)">
<ellipse class="e" cx="318" cy="362" rx="20" ry="12"/><ellipse class="e" cx="515" cy="437" rx="20" ry="12"/><ellipse class="e" cx="162" cy="472" rx="20" ry="15"/><ellipse class="e" cx="630" cy="533" rx="20" ry="16"/><ellipse class="e" cx="747" cy="375" rx="20" ry="12"/><ellipse class="e" cx="851" cy="376" rx="20" ry="12"/><ellipse class="e" cx="1085" cy="468" rx="20" ry="12"/><ellipse class="e" cx="1213" cy="428" rx="20" ry="12"/><ellipse class="e" cx="1310" cy="464" rx="20" ry="16"/><ellipse class="e" cx="1438" cy="408" rx="20" ry="12"/><ellipse class="e" cx="905" cy="537" rx="20" ry="16"/>
<use href="#cg" x="-592" y="113"/><use href="#cg" x="83" y="143"/>
</g>
<g class="l"><polyline points="1705,1760 1634,1708 1674,1805"/><line x1="1871" y1="1715" x2="1835" y2="1815"/></g>
<text x="1508" y="1674" textLength="93" lengthAdjust="spacingAndGlyphs">Glycine</text>
<text x="1508" y="1705" textLength="122" lengthAdjust="spacingAndGlyphs">receptors</text>
<text x="1829" y="1674" textLength="133" lengthAdjust="spacingAndGlyphs">Glutamate</text>
<text x="1829" y="1705" textLength="121" lengthAdjust="spacingAndGlyphs">receptors</text>
</svg>
</body></html>
